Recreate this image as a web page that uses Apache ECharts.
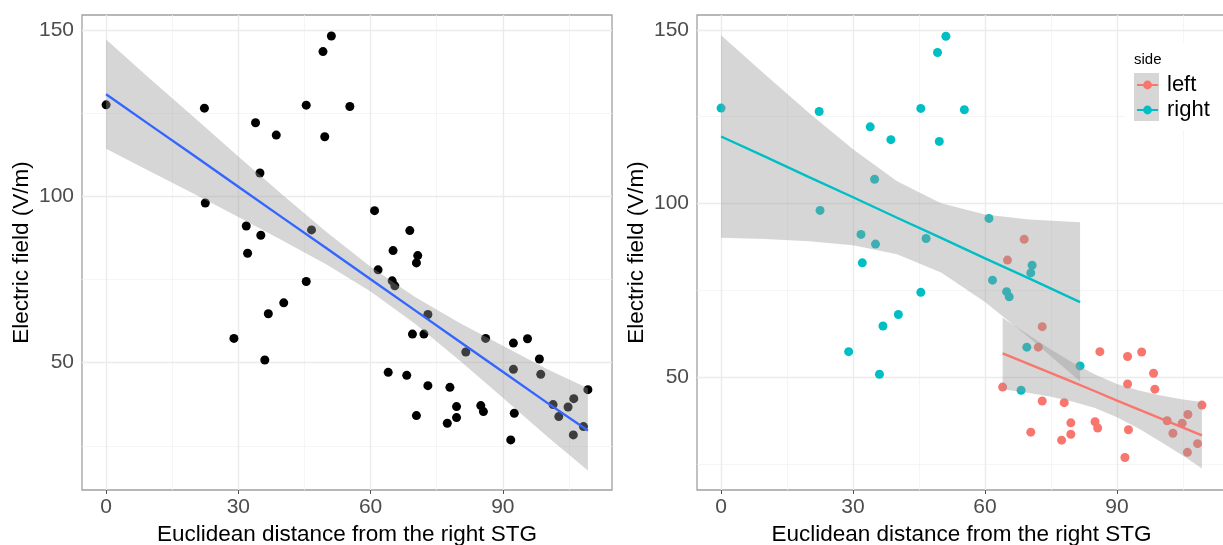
<!DOCTYPE html>
<html>
<head>
<meta charset="utf-8">
<script src="https://cdn.jsdelivr.net/npm/echarts@6/dist/echarts.min.js"></script>
<style>html,body{margin:0;padding:0;background:#fff}#c{width:1223px;height:545px}</style>
</head>
<body>
<div id="c"></div>
<script>
// ---------- data ----------
const rightSideX = [0,22.3,22.5,29.0,31.8,32.1,33.9,34.9,35.1,36.0,36.8,38.6,40.3,45.4,45.4,46.6,49.2,49.6,51.1,55.3,60.9,61.7,64.9,65.5,68.2,69.5,70.4,70.7,81.6];
const rightSideY = [127.5,126.5,98.0,57.3,91.1,82.9,122.1,107.0,88.3,50.8,64.7,118.4,68.0,127.4,74.4,89.9,143.5,117.9,148.2,127.0,95.7,77.9,74.6,73.1,46.2,58.6,80.0,82.2,53.2];
const leftSideX = [64.0,65.1,68.9,70.4,72.1,73.0,73.0,77.4,78.0,79.5,79.5,85.0,85.6,86.1,91.8,92.4,92.4,92.6,95.6,98.3,98.6,101.4,102.7,104.8,106.0,106.1,108.3,109.3];
const leftSideY = [47.1,83.7,89.7,34.1,58.6,64.5,43.1,31.8,42.6,36.8,33.5,37.1,35.3,57.3,26.8,55.9,48.0,34.8,57.2,51.1,46.5,37.4,33.8,36.7,28.3,39.2,30.8,41.9];

// fitted line + confidence band, all points (left panel)
const allFitX   = [0,10,20,30,40,50,60,70,80,90,100,109.3];
const allFitY   = [130.7,121.4,112.2,102.9,93.6,84.4,75.1,65.8,56.5,47.3,38.0,29.6];
const allUpper  = [147.1,135.3,123.7,112.0,100.5,89.3,78.8,69.8,62.1,55.1,48.1,42.3];
const allLower  = [114.3,107.5,100.7,93.8,86.7,79.5,71.4,61.8,50.9,39.5,27.9,17.6];

// fits by side (right panel)
const rightFitX  = [0,10,20,30,40,50,60,70,81.6];
const rightFitY  = [119.3,113.5,107.6,101.8,95.9,90.1,84.2,78.4,71.6];
const rightUpper = [148.5,137.2,126.1,115.6,106.4,100.1,96.8,95.4,94.6];
const rightLower = [90.1,89.8,89.1,88.0,85.4,80.1,71.6,61.4,48.7];

const leftFitX  = [64.0,70,75,80,85,90,95,100,105,109.3];
const leftFitY  = [56.8,53.7,51.1,48.5,45.9,43.2,40.6,38.0,35.4,33.2];
const leftUpper = [67.1,62.0,57.9,54.1,50.7,48.0,46.1,44.7,43.5,42.8];
const leftLower = [46.5,45.4,44.3,42.9,41.1,38.4,35.1,31.3,27.3,23.6];

const xTicks = [0,30,60,90];
const xMinor = [15,45,75,105];
const yTicks = [50,100,150];
const yMinor = [25,75,125];

const xTitle = 'Euclidean distance from the right STG';
const yTitle = 'Electric field (V/m)';
const sides = ['left','right'];
const sideColors = {left:'#F8766D', right:'#00BFC4'};

// ---------- helpers ----------
const pairs = (xs, ys) => xs.map((x,i)=>[x, ys[i]]);
const allX = rightSideX.concat(leftSideX);
const allY = rightSideY.concat(leftSideY);

function ribbon(xs, up, lo, idx) {
  return {
    type:'custom', xAxisIndex:idx, yAxisIndex:idx, silent:true, z:3,
    data: xs.map((x,i)=>[x, up[i], lo[i]]),
    encode:{x:0, y:[1,2]},
    renderItem: function(params, api) {
      if (params.dataIndex !== 0) return null;
      const pts = [];
      for (let i=0;i<xs.length;i++) pts.push(api.coord([xs[i], up[i]]));
      for (let i=xs.length-1;i>=0;i--) pts.push(api.coord([xs[i], lo[i]]));
      return {type:'polygon', shape:{points:pts}, style:{fill:'rgba(153,153,153,0.4)'}};
    }
  };
}
function gridLines(idx) {
  const major = {type:'solid', color:'#ebebeb', width:1.4};
  const minor = {type:'solid', color:'#f3f3f3', width:0.8};
  const d = [];
  xMinor.forEach(v=>d.push({xAxis:v, lineStyle:minor}));
  yMinor.forEach(v=>d.push({yAxis:v, lineStyle:minor}));
  xTicks.forEach(v=>d.push({xAxis:v, lineStyle:major}));
  yTicks.forEach(v=>d.push({yAxis:v, lineStyle:major}));
  return {
    type:'line', xAxisIndex:idx, yAxisIndex:idx, data:[], silent:true,
    markLine:{silent:true, symbol:['none','none'], label:{show:false}, z:1, animation:false, data:d}
  };
}
function fitLine(name, xs, ys, idx, color) {
  return {
    type:'line', name:name, xAxisIndex:idx, yAxisIndex:idx, z:4,
    data:pairs(xs, ys), showSymbol:false, symbol:'circle', smooth:false,
    itemStyle:{color:color}, lineStyle:{color:color, width:2.4}, silent:true
  };
}
function xAxisOf(idx){
  return {
    type:'value', gridIndex:idx, min:-5.47, max:114.77,
    axisLine:{show:false}, splitLine:{show:false},
    axisTick:{show:true, customValues:xTicks, length:4, lineStyle:{color:'#555', width:1}},
    axisLabel:{customValues:xTicks, fontSize:21, color:'#4d4d4d', margin:7, fontFamily:'Liberation Sans'},
    name:xTitle, nameLocation:'middle', nameGap:32,
    nameTextStyle:{fontSize:22.5, color:'#000', fontFamily:'Liberation Sans'}
  };
}
function yAxisOf(idx, min, max){
  return {
    type:'value', gridIndex:idx, min:min, max:max,
    axisLine:{show:false}, splitLine:{show:false},
    axisTick:{show:true, customValues:yTicks, length:4, lineStyle:{color:'#555', width:1}},
    axisLabel:{customValues:yTicks, fontSize:21, color:'#4d4d4d', margin:8, fontFamily:'Liberation Sans'},
    name:yTitle, nameLocation:'middle', nameGap:49, nameRotate:90,
    nameTextStyle:{fontSize:22.5, color:'#000', fontFamily:'Liberation Sans'}
  };
}

const option = {
  animation:false,
  textStyle:{fontFamily:'Liberation Sans'},
  grid:[
    {left:82, top:15, width:530, height:475, outerBoundsMode:'none', containLabel:false,
     show:true, borderColor:'#a0a0a0', borderWidth:1.3, backgroundColor:'transparent'},
    {left:697, top:15, width:529, height:475, outerBoundsMode:'none', containLabel:false,
     show:true, borderColor:'#a0a0a0', borderWidth:1.3, backgroundColor:'transparent'}
  ],
  xAxis:[xAxisOf(0), xAxisOf(1)],
  yAxis:[yAxisOf(0, 11.74, 154.5), yAxisOf(1, 17.44, 154.32)],
  legend:{
    orient:'vertical', left:1136, top:74, padding:0, itemWidth:21, itemHeight:11, itemGap:3, z:20,
    data:sides, selectedMode:false,
    textStyle:{fontSize:22, color:'#000', padding:[0,0,0,4]}
  },
  graphic:[
    {type:'rect', z:10, silent:true, shape:{x:1125, y:43, width:100, height:87}, style:{fill:'#fff'}},
    {type:'rect', z:11, silent:true, shape:{x:1134, y:73, width:25, height:48}, style:{fill:'#d6d6d6'}},
    {type:'text', z:12, silent:true, left:1134, top:52, style:{text:'side', fontSize:15, fill:'#000', fontFamily:'Liberation Sans'}}
  ],
  series:[
    gridLines(0),
    gridLines(1),
    // right panel lines first so the legend picks their line+dot icon
    fitLine('left', leftFitX, leftFitY, 1, sideColors.left),
    fitLine('right', rightFitX, rightFitY, 1, sideColors.right),
    {type:'scatter', name:'all', xAxisIndex:0, yAxisIndex:0, z:2, symbolSize:9, silent:true,
     itemStyle:{color:'#000', opacity:1}, data:pairs(allX, allY)},
    ribbon(allFitX, allUpper, allLower, 0),
    fitLine('all fit', allFitX, allFitY, 0, '#3366FF'),
    {type:'scatter', name:'left', xAxisIndex:1, yAxisIndex:1, z:2, symbolSize:9, silent:true,
     itemStyle:{color:sideColors.left, opacity:1}, data:pairs(leftSideX, leftSideY)},
    {type:'scatter', name:'right', xAxisIndex:1, yAxisIndex:1, z:2, symbolSize:9, silent:true,
     itemStyle:{color:sideColors.right, opacity:1}, data:pairs(rightSideX, rightSideY)},
    ribbon(leftFitX, leftUpper, leftLower, 1),
    ribbon(rightFitX, rightUpper, rightLower, 1)
  ]
};
const chart = echarts.init(document.getElementById('c'), null, {renderer:'canvas'});
chart.setOption(option);
</script>
</body>
</html>
